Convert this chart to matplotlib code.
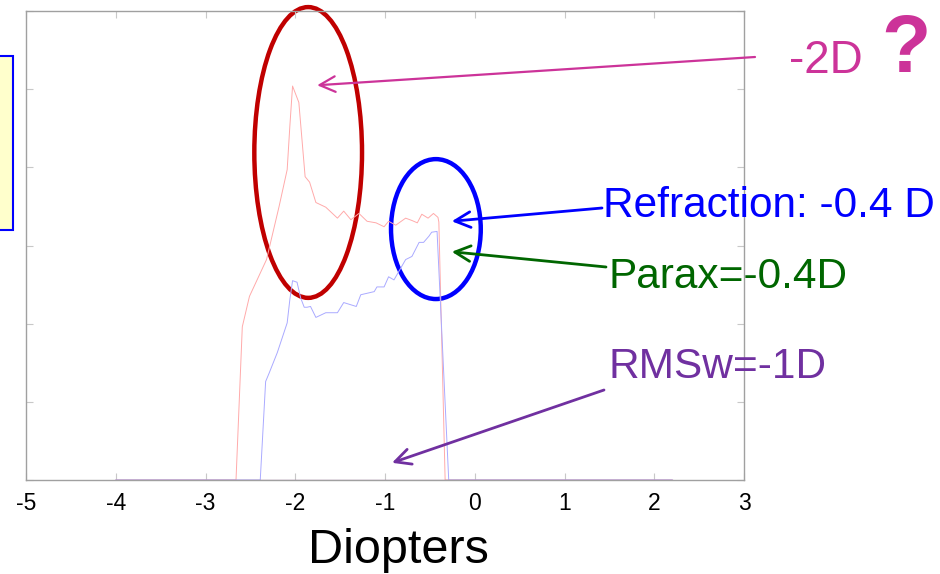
import matplotlib
matplotlib.use("Agg")
import matplotlib.pyplot as plt
from matplotlib.patches import Ellipse, Rectangle

plt.rcParams['font.family'] = ['Liberation Sans', 'DejaVu Sans']

# Data (Diopters vs. relative metric value)
red_x = [-4.0, -2.66, -2.59, -2.51, -2.32, -2.18, -2.09, -2.06, -2.03, -1.96, -1.89,
         -1.84, -1.77, -1.66, -1.53, -1.46, -1.38, -1.29, -1.20, -1.10, -1.01,
         -0.96, -0.88, -0.77, -0.70, -0.64, -0.59, -0.52, -0.46, -0.41, -0.40,
         -0.33, 2.2]
red_y = [0.0, 0.0, 1.96, 2.35, 2.82, 3.50, 3.97, 4.53, 5.04, 4.83, 3.88,
         3.81, 3.55, 3.49, 3.35, 3.44, 3.33, 3.41, 3.31, 3.29, 3.24,
         3.31, 3.26, 3.35, 3.32, 3.29, 3.40, 3.35, 3.41, 3.36, 3.30,
         0.0, 0.0]

blue_x = [-4.0, -2.39, -2.33, -2.29, -2.20, -2.09, -2.06, -2.03, -1.98, -1.94, -1.90,
          -1.87, -1.83, -1.77, -1.66, -1.53, -1.46, -1.32, -1.27, -1.12, -1.09,
          -1.01, -0.96, -0.90, -0.77, -0.70, -0.66, -0.62, -0.57, -0.51, -0.48,
          -0.42, -0.37, -0.29, 2.2]
blue_y = [0.0, 0.0, 1.26, 1.37, 1.63, 2.01, 2.31, 2.55, 2.53, 2.33, 2.21,
          2.21, 2.22, 2.08, 2.14, 2.14, 2.27, 2.22, 2.37, 2.41, 2.47,
          2.47, 2.60, 2.56, 2.82, 2.86, 2.95, 3.04, 3.04, 3.12, 3.17,
          3.18, 1.96, 0.0, 0.0]

x_ticks = [-5, -4, -3, -2, -1, 0, 1, 2, 3]
y_ticks = [0, 1, 2, 3, 4, 5, 6]

W, H = 940, 574
fig = plt.figure(figsize=(W / 100, H / 100), dpi=100)
ax = fig.add_axes([26 / W, (H - 480) / H, (744 - 26) / W, (480 - 11) / H])

ax.plot(red_x, red_y, color='#ffaaaa', lw=0.7)
ax.plot(blue_x, blue_y, color='#aaaaff', lw=0.7)
ax.plot([-4.0, 2.2], [0, 0], color='#a060a0', lw=1.0, alpha=0.7)

ax.set_xlim(-5, 3)
ax.set_ylim(0, 6)
ax.set_xticks(x_ticks)
ax.set_xticklabels([str(t) for t in x_ticks], fontsize=16.5)
ax.set_yticks(y_ticks)
ax.set_yticklabels([])
ax.tick_params(direction='in', length=5, color='#c8c8c8', top=True, right=True,
               labeltop=False, labelright=False, pad=9)
for s in ax.spines.values():
    s.set_color('#a0a0a0')
    s.set_linewidth(1.0)
ax.set_xlabel('Diopters', fontsize=35)
ax.xaxis.set_label_coords((398 - 26) / 718, -0.102)
ax.xaxis.label.set_va('top')

# Ellipses
ax.add_patch(Ellipse((-1.856, 4.19), 1.2, 3.72, fill=False, ec='#c00000', lw=3.2, clip_on=False))
ax.add_patch(Ellipse((-0.433, 3.21), 1.0, 1.79, fill=False, ec='#0000ff', lw=3.2, clip_on=False))

def figpx(x, y):
    return (x, H - y)

arrow = dict(arrowstyle='->', lw=1.6, mutation_scale=28, shrinkA=0, shrinkB=0)

ax.annotate('', xy=(-1.756, 5.05), xycoords='data', xytext=figpx(755, 57),
            textcoords='figure pixels', arrowprops=dict(arrow, color='#cc3399'),
            annotation_clip=False)
ax.annotate('', xy=(-0.256, 3.31), xycoords='data', xytext=figpx(602, 208),
            textcoords='figure pixels', arrowprops=dict(arrow, color='#0000ff', lw=2.0),
            annotation_clip=False)
ax.annotate('', xy=(-0.256, 2.92), xycoords='data', xytext=figpx(606, 267),
            textcoords='figure pixels', arrowprops=dict(arrow, color='#006600', lw=2.0),
            annotation_clip=False)
ax.annotate('', xy=(-0.922, 0.22), xycoords='data', xytext=figpx(604, 390),
            textcoords='figure pixels', arrowprops=dict(arrow, color='#7030a0', lw=2.0),
            annotation_clip=False)

fig.text(789 / W, (H - 73) / H, '-2D', fontsize=33, color='#cc3399', va='baseline')
fig.text(881 / W, (H - 72) / H, '?', fontsize=58, color='#cc3399', fontweight='bold', va='baseline')
fig.text(603 / W, (H - 217) / H, 'Refraction: -0.4 D', fontsize=30.5, color='#0000ff', va='baseline')
fig.text(608 / W, (H - 288) / H, 'Parax=-0.4D', fontsize=30.5, color='#006600', va='baseline')
fig.text(609 / W, (H - 378) / H, 'RMSw=-1D', fontsize=30.5, color='#7030a0', va='baseline')

# Yellow box at left edge
fig.patches.append(Rectangle((-20, H - 230), 33, 174, transform=None,
                             facecolor='#ffffcc', edgecolor='#0000ff', lw=1.5))

fig.savefig('out.png', dpi=100)
